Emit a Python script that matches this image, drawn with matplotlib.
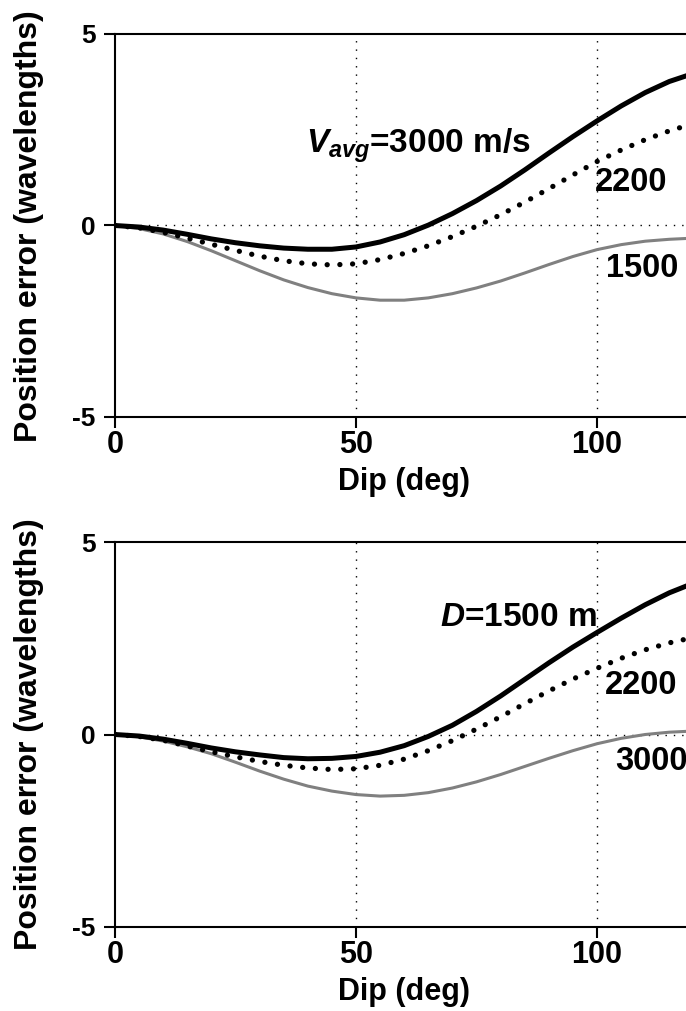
import matplotlib
matplotlib.use("Agg")
import matplotlib.pyplot as plt
import numpy as np

plt.rcParams['font.family'] = ['Liberation Sans', 'DejaVu Sans']
plt.rcParams['font.weight'] = 'bold'
plt.rcParams['axes.unicode_minus'] = False
plt.rcParams['mathtext.fontset'] = 'custom'
plt.rcParams['mathtext.it'] = 'Liberation Sans:bold:italic'
plt.rcParams['mathtext.rm'] = 'Liberation Sans:bold'
plt.rcParams['mathtext.bf'] = 'Liberation Sans:bold'

# dip angle (deg)
dip = np.arange(0, 125, 5)

# top panel: different average velocities
v3000 = [0, -0.04, -0.12, -0.23, -0.35, -0.45, -0.53, -0.59, -0.62, -0.62, -0.56, -0.43, -0.24,
         0.01, 0.31, 0.65, 1.03, 1.45, 1.89, 2.32, 2.73, 3.12, 3.47, 3.76, 3.97]
v2200 = [0, -0.06, -0.18, -0.33, -0.49, -0.65, -0.80, -0.92, -1.00, -1.03, -1.00, -0.89, -0.73,
         -0.53, -0.29, -0.02, 0.28, 0.61, 0.96, 1.32, 1.67, 1.97, 2.24, 2.47, 2.66]
v1500 = [0, -0.08, -0.22, -0.42, -0.66, -0.92, -1.18, -1.42, -1.62, -1.78, -1.89, -1.95, -1.95,
         -1.89, -1.78, -1.63, -1.45, -1.24, -1.02, -0.81, -0.63, -0.50, -0.41, -0.36, -0.33]

# bottom panel: different depths
d1500 = [0, -0.04, -0.12, -0.23, -0.35, -0.45, -0.53, -0.60, -0.63, -0.62, -0.57, -0.46, -0.29,
         -0.05, 0.24, 0.60, 1.00, 1.43, 1.86, 2.27, 2.65, 3.02, 3.37, 3.68, 3.93]
d2200 = [0, -0.05, -0.15, -0.30, -0.45, -0.58, -0.70, -0.80, -0.87, -0.91, -0.89, -0.80, -0.64,
         -0.42, -0.16, 0.14, 0.46, 0.80, 1.13, 1.44, 1.72, 1.98, 2.20, 2.38, 2.52]
d3000 = [0, -0.06, -0.17, -0.32, -0.50, -0.72, -0.95, -1.16, -1.34, -1.47, -1.56, -1.60, -1.58,
         -1.51, -1.39, -1.23, -1.04, -0.83, -0.62, -0.42, -0.24, -0.10, 0.00, 0.06, 0.09]

W, H = 686, 1011
fig = plt.figure(figsize=(W / 100, H / 100), dpi=100)

def px_axes(left, top, bottom, right):
    return [left / W, 1 - bottom / H, (right - left) / W, (bottom - top) / H]

# the x axis runs to 120 deg, a little past the right edge of the picture
ax1 = fig.add_axes(px_axes(115, 34, 417, 693.4))
ax2 = fig.add_axes(px_axes(115, 542, 927, 693.4))

def setup(ax, ycenter, xlab_base):
    ax.set_xlim(0, 120)
    ax.set_ylim(-5, 5)
    ax.set_xticks([0, 50, 100])
    ax.set_yticks([-5, 0, 5])
    for s in ['top', 'bottom', 'left']:
        ax.spines[s].set_linewidth(1.5)
    ax.spines['right'].set_visible(False)
    ax.tick_params(axis='x', direction='out', length=8, width=1.5, pad=1.5, labelsize=22)
    ax.tick_params(axis='y', direction='out', length=8, width=1.5, pad=6, labelsize=19)
    for x in [50, 100]:
        ax.axvline(x, color='black', lw=1.0, ls=(0, (1, 5)), zorder=1)
    ax.axhline(0, color='black', lw=1.0, ls=(0, (1, 5)), zorder=1)
    fig.text(29 / W, 1 - ycenter / H, 'Position error (wavelengths)', rotation=90,
             ha='center', va='center', fontsize=23, fontweight='bold')
    fig.text(404 / W, 1 - xlab_base / H, 'Dip (deg)', ha='center', va='baseline',
             fontsize=22, fontweight='bold')

def curves(ax, solid, dotted, gray):
    ax.plot(dip, gray, color='0.5', lw=2.2, zorder=2)
    ax.plot(dip, dotted, color='black', lw=3.8, ls=(0, (0.01, 2.4)),
            dash_capstyle='round', zorder=3)
    ax.plot(dip, solid, color='black', lw=3.6, solid_capstyle='round', zorder=4)

setup(ax1, 226, 490)
setup(ax2, 734, 1000)
curves(ax1, v3000, v2200, v1500)
curves(ax2, d1500, d2200, d3000)

ax1.text(39.6, 1.90, r'$V_{avg}$=3000 m/s', fontsize=24, fontweight='bold', va='baseline')
ax1.text(99.6, 0.91, '2200', fontsize=23.5, fontweight='bold', va='baseline')
ax1.text(101.9, -1.35, '1500', fontsize=23.5, fontweight='bold', va='baseline')

ax2.text(67.4, 2.81, r'$D$=1500 m', fontsize=24, fontweight='bold', va='baseline')
ax2.text(101.7, 1.04, '2200', fontsize=23.5, fontweight='bold', va='baseline')
ax2.text(103.7, -0.91, '3000', fontsize=23.5, fontweight='bold', va='baseline')

fig.savefig('out.png', dpi=100, facecolor='white')
